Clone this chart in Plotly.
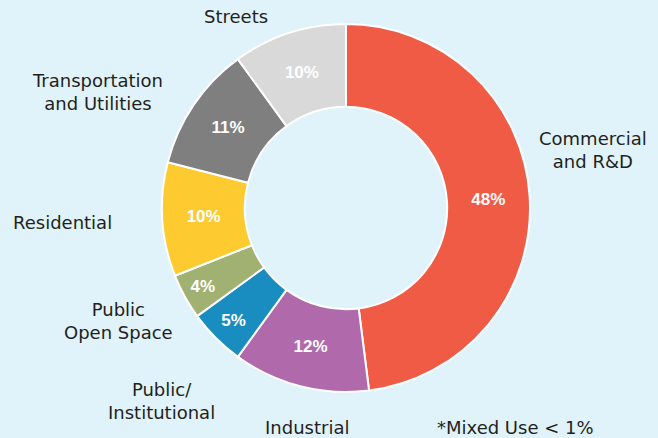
import plotly.graph_objects as go

categories = ["Commercial and R&D", "Industrial", "Public/Institutional", "Public Open Space",
              "Residential", "Transportation and Utilities", "Streets"]
values = [48, 12, 5, 4, 10, 11, 10]
colors = ["#f05b46", "#b06aab", "#1a8dc0", "#a1b172", "#fdcb30", "#7f7f7f", "#d9d9d9"]

# outside label texts and their positions (pixels in the 658x438 canvas)
label_texts = ["Commercial<br>and R&D", "Industrial", "Public/<br>Institutional", "Public<br>Open Space",
               "Residential", "Transportation<br>and Utilities", "Streets"]
label_pos = [(593, 150), (307, 427), (161, 401), (118, 321), (62, 222), (97, 92), (236, 17)]
note_text = "*Mixed Use < 1%"
note_pos = (515, 427)

W, H = 658, 438
cx, cy, R = 346, 208, 184

fig = go.Figure(go.Pie(
    labels=categories,
    values=values,
    sort=False,
    direction="clockwise",
    rotation=0,
    hole=0.55,
    marker=dict(colors=colors, line=dict(color="white", width=2)),
    texttemplate="%{value}%",
    textposition="inside",
    insidetextorientation="horizontal",
    textfont=dict(family="Liberation Sans, Arial", size=17, color="white", weight="bold"),
    showlegend=False,
    hoverinfo="label+percent",
    domain=dict(x=[(cx - R) / W, (cx + R) / W], y=[1 - (cy + R) / H, 1 - (cy - R) / H]),
))

annos = []
for t, (x, y) in zip(label_texts + [note_text], label_pos + [note_pos]):
    annos.append(dict(text=t, x=x / W, y=1 - y / H, xref="paper", yref="paper",
                      xanchor="center", yanchor="middle", showarrow=False, align="center",
                      font=dict(family="DejaVu Sans, Liberation Sans", size=18, color="#231f20")))

fig.update_layout(
    width=W, height=H,
    margin=dict(l=0, r=0, t=0, b=0),
    paper_bgcolor="#e0f2fa",
    plot_bgcolor="#e0f2fa",
    annotations=annos,
)

fig.write_html("out.html",
               config={"displayModeBar": False},
               post_script="document.body.style.margin='0';document.body.style.padding='0';"
                           "document.body.style.overflow='hidden';")
